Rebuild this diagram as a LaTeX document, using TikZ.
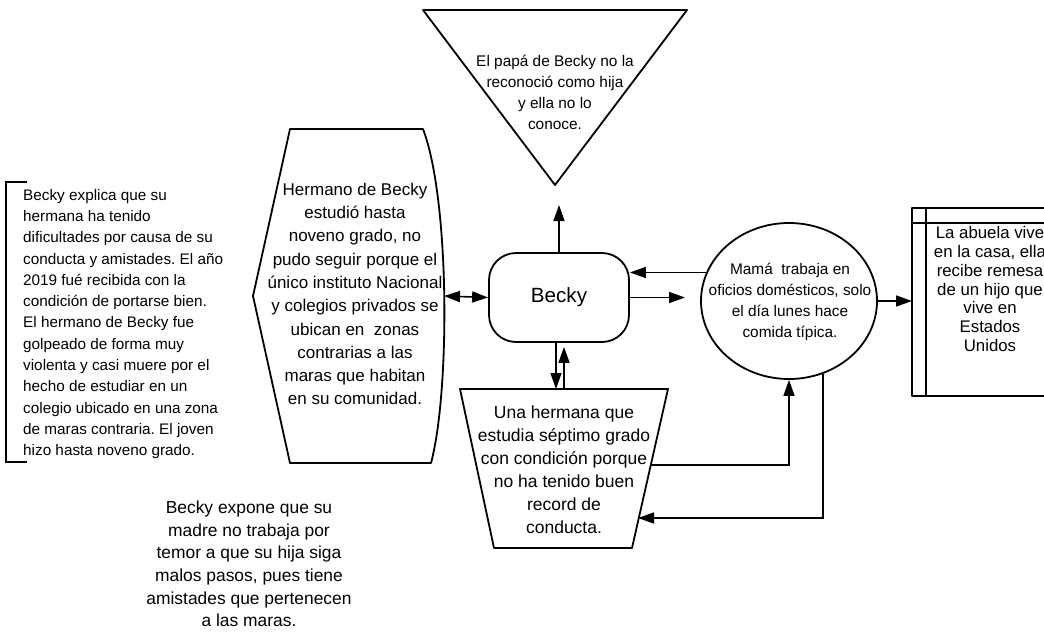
\documentclass[tikz,border=0pt]{standalone}
\usepackage{fontspec}
\setmainfont{Liberation Sans}
\frenchspacing
\usetikzlibrary{arrows.meta,shapes.geometric}
\tikzset{
  shapeline/.style={draw=black, line width=1.8pt, line join=round},
  conn/.style={line width=1.6pt, -{Triangle[length=16pt,width=11pt]}},
  dblconn/.style={line width=1.6pt, {Triangle[length=16pt,width=11pt]}-{Triangle[length=16pt,width=11pt]}},
  txt/.style={align=center, inner sep=0pt},
}
\newcommand{\fsz}[2]{\fontsize{#1}{#2}\selectfont}

\begin{document}
\begin{tikzpicture}[x=1pt,y=-1pt]
  \useasboundingbox (0,0) rectangle (1044,632);
  % Left bracket with note
  \draw[line width=1.7pt] (27,182) -- (6,182) -- (6,462) -- (27,462);
  \node[txt, align=left, anchor=west, font=\fsz{15.3}{21.3}] (explica) at (23,324) {Becky explica que su\\
    hermana ha tenido\\ dificultades por causa de su\\ conducta y amistades. El año\\
    2019 fué recibida con la\\ condición de portarse bien.\\ El hermano de Becky fue\\
    golpeado de forma muy\\ violenta y casi muere por el\\ hecho de estudiar en un\\
    colegio ubicado en una zona\\ de maras contraria. El joven\\ hizo hasta noveno grado.};
  % Brother (display shape)
  \draw[shapeline] (290,129) -- (423,129) .. controls (450,200) and (450,392) .. (431,463)
    -- (290,463) -- (253,296) -- cycle;
  \coordinate (hermano-e) at (444,296);
  \node[txt, font=\fsz{17}{23.3}] (hermano) at (355,294) {Hermano de Becky\\ estudió hasta\\
    noveno grado, no\\ pudo seguir porque el\\ único instituto Nacional\\
    y colegios privados se\\ ubican en\ \ zonas\\ contrarias a las\\ maras que habitan\\ en su comunidad.};
  % Father (inverted triangle)
  \draw[shapeline] (423,10) -- (687,10) -- (555,185) -- cycle;
  \node[txt, font=\fsz{15.4}{21}] (papa) at (555,92) {El papá de Becky no la\\ reconoció como hija\\
    y ella no lo\\ conoce.};
  \coordinate (papa-s) at (559,205);
  % Becky
  \node[shapeline, rounded corners=27pt, minimum width=140pt, minimum height=89pt,
    font=\fsz{20.6}{24}] (becky) at (559,297.5) {Becky};
  \coordinate (becky-out) at (685,297.5);
  % Mother (ellipse)
  \node[shapeline, ellipse, minimum width=176pt, minimum height=156pt, inner sep=0pt] (mama)
    at (789,301) {};
  \node[txt, font=\fsz{15.4}{21}] (mamatxt) at (790,302) {Mamá\ \ trabaja en\\ oficios domésticos, solo\\
    el día lunes hace\\ comida típica.};
  % Grandmother (box running off the page)
  \draw[shapeline] (1060,208) -- (912,208) -- (912,396) -- (1060,396);
  \draw[line width=1.6pt] (926,208) -- (926,396);
  \draw[line width=1.6pt] (912,223) -- (1060,223);
  \coordinate (abuela-w) at (912,301);
  \node[txt, font=\fsz{16.8}{18.7}] (abuela) at (990,289) {La abuela vive\\ en la casa, ella\\
    recibe remesa\\ de un hijo que\\ vive en\\ Estados\\ Unidos};
  % Sister (trapezoid)
  \draw[shapeline] (460,389) -- (668,389) -- (632,548) -- (494,548) -- cycle;
  \coordinate (hermana-n) at (564,389);
  \coordinate (hermana-r) at (650,465);
  \coordinate (hermana-r2) at (638,518);
  \node[txt, font=\fsz{17.5}{23}] (hermana) at (564,470) {Una hermana que\\ estudia séptimo grado\\
    con condición porque\\ no ha tenido buen\\ record de\\ conducta.};
  % Note below
  \node[txt, font=\fsz{17.4}{22.6}] (expone) at (249,564) {Becky expone que su\\ madre no trabaja por\\
    temor a que su hija siga\\ malos pasos, pues tiene\\ amistades que pertenecen\\ a las maras.};
  % Connectors
  \draw[dblconn] (hermano-e) -- (becky.west);
  \draw[conn] (becky.north) -- (papa-s);
  \draw[conn] (becky.east) -- (becky-out);
  \draw[conn] (mama.161) -- (mama.161 -| becky.east);
  \draw[conn] ([xshift=-3pt]becky.south) -- ([xshift=-3pt]becky.south |- hermana-n);
  \draw[conn, shorten >=4pt] ([xshift=5pt]becky.south |- hermana-n) -- ([xshift=5pt]becky.south);
  \draw[conn] (hermana-r) -| (mama.south);
  \draw[conn] (mama.-65) |- (hermana-r2);
  \draw[conn] (mama.east) -- (abuela-w);
\end{tikzpicture}
\end{document}
